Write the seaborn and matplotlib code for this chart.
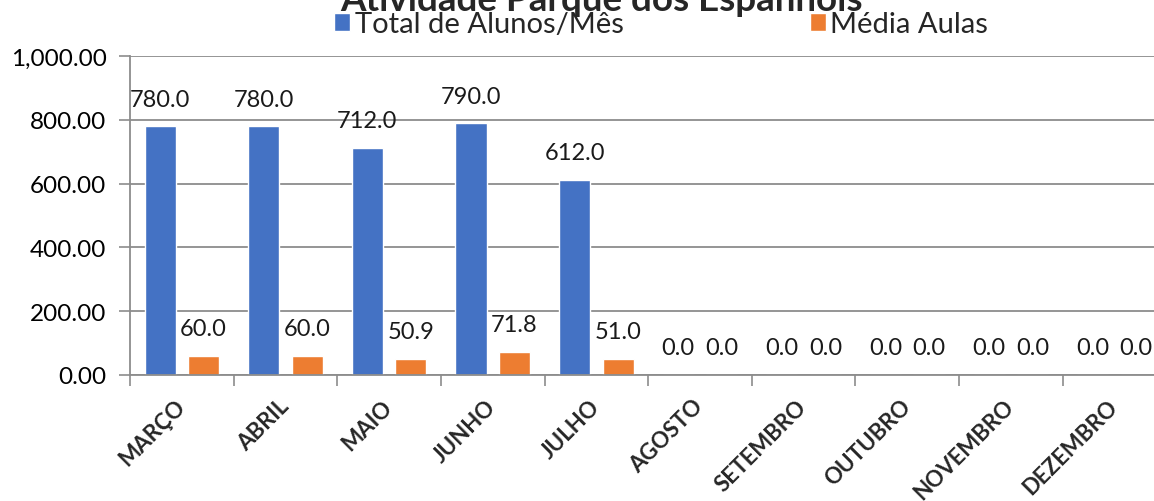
import matplotlib
matplotlib.use("Agg")
import matplotlib.pyplot as plt
import matplotlib.ticker as mticker
from matplotlib.patches import Patch
import seaborn as sns
import pandas as pd

meses = ["MARÇO", "ABRIL", "MAIO", "JUNHO", "JULHO", "AGOSTO",
         "SETEMBRO", "OUTUBRO", "NOVEMBRO", "DEZEMBRO"]
total_alunos = [780.0, 780.0, 712.0, 790.0, 612.0, 0.0, 0.0, 0.0, 0.0, 0.0]
media_aulas = [60.0, 60.0, 50.9, 71.8, 51.0, 0.0, 0.0, 0.0, 0.0, 0.0]
series = ["Total de Alunos/Mês", "Média Aulas"]
cores = ["#4472C4", "#ED7D31"]
titulo = "Atividade Parque dos Espanhóis"

df = pd.DataFrame({
    "mes": meses * 2,
    "valor": total_alunos + media_aulas,
    "serie": [series[0]] * len(meses) + [series[1]] * len(meses),
})

sns.set_style("white")
plt.rcParams["font.family"] = ["Lato", "DejaVu Sans"]

fig = plt.figure(figsize=(11.54, 5.02), dpi=100)
ax = fig.add_axes([0.1127, 0.251, 0.898, 0.635])

sns.barplot(data=df, x="mes", y="valor", hue="serie", palette=cores,
            width=0.84, gap=0.286, ax=ax, legend=False, saturation=1)

for cont in ax.containers:
    ax.bar_label(cont, fmt="%.1f", padding=12, fontsize=17, color="#1a1a1a")

ax.set_xlim(-0.5, len(meses) - 0.5)
ax.set_ylim(0, 1000)
ax.yaxis.set_major_locator(mticker.MultipleLocator(200))
ax.yaxis.set_major_formatter(mticker.StrMethodFormatter("{x:,.2f}"))
ax.grid(axis="y", color="#8c8c8c", linewidth=1.3)
ax.set_axisbelow(True)
ax.set_xlabel("")
ax.set_ylabel("")

ax.tick_params(axis="y", labelsize=17.5, length=8, width=1.2, color="#8c8c8c",
               left=True, pad=9, labelcolor="black")
ax.set_xticks(range(len(meses)))
ax.set_xticklabels(meses, rotation=45, ha="right", va="center",
                   rotation_mode="anchor", fontsize=16, fontweight="bold")
ax.tick_params(axis="x", which="major", length=0, pad=20)
ax.set_xticks([i - 0.5 for i in range(len(meses) + 1)], minor=True)
ax.tick_params(axis="x", which="minor", length=8, width=1.2, color="#8c8c8c",
               bottom=True)

for s in ["top", "right"]:
    ax.spines[s].set_visible(False)
for s in ["left", "bottom"]:
    ax.spines[s].set_color("#8c8c8c")
    ax.spines[s].set_linewidth(1.3)

fig.text(0.521, 1 - 11 / 502, titulo, ha="center", va="baseline",
         fontsize=26.5, fontweight="bold")

handles = [Patch(facecolor=c, label=s) for c, s in zip(cores, series)]
fig.legend(handles=handles, ncol=2, loc="center", bbox_to_anchor=(0.573, 0.95),
           frameon=False, fontsize=21, handlelength=0.55, handleheight=0.55,
           handletextpad=0.15, columnspacing=6.4, borderpad=0)

fig.savefig("out.png", dpi=100)
